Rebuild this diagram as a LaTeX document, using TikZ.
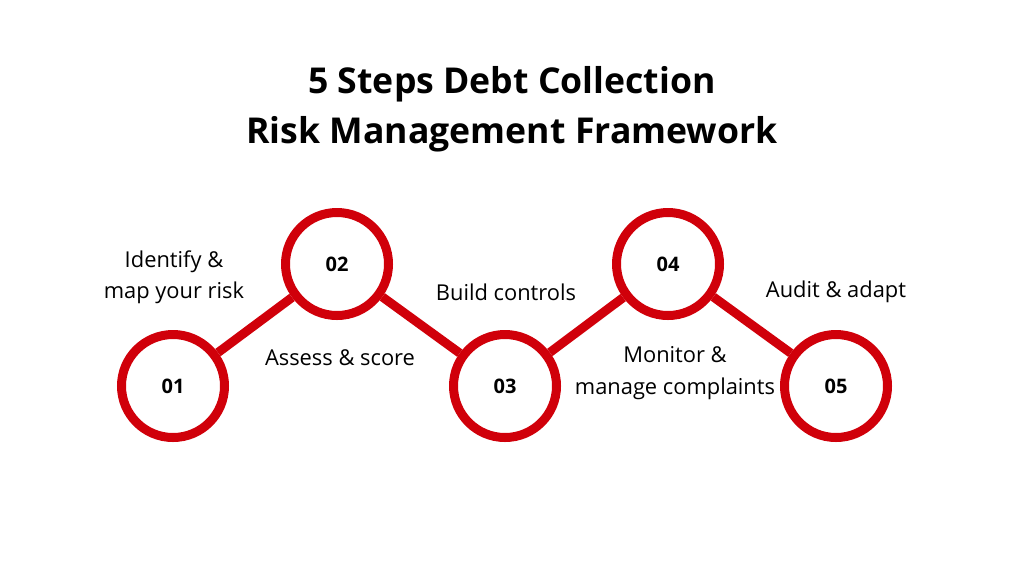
\documentclass[tikz,border=0pt]{standalone}
\usepackage{fontspec}
\setmainfont{Open Sans}
\usepackage{tikz}
\definecolor{stepred}{HTML}{D0000A}

\begin{document}
\begin{tikzpicture}[x=0.75pt,y=-0.75pt]
\tikzset{every node/.style={inner sep=0pt},
  stepcircle/.style={circle,draw=stepred,line width=6.75pt,minimum size=103*0.75pt,font=\fontsize{15}{18}\selectfont\bfseries},
  steplabel/.style={align=center,font=\fontsize{16.4}{23.5}\selectfont},
  link/.style={stepred,line width=6.75pt}}
\useasboundingbox (0,0) rectangle (1012,569);
% title
\node[align=center,font=\fontsize{26.7}{37.5}\selectfont\bfseries] (title) at (512,109) {5 Steps Debt Collection\\Risk Management Framework};
% steps
\node[stepcircle] (s1) at (173,386) {01};
\node[stepcircle] (s2) at (337,264) {02};
\node[stepcircle] (s3) at (505,386) {03};
\node[stepcircle] (s4) at (668,264) {04};
\node[stepcircle] (s5) at (836,386) {05};
\draw[link] (s1) -- (s2);
\draw[link] (s2) -- (s3);
\draw[link] (s3) -- (s4);
\draw[link] (s4) -- (s5);
% labels
\node[steplabel] (l1) at (174,277) {Identify \&\\map your risk};
\node[steplabel] (l2) at (340,358) {Assess \& score};
\node[steplabel] (l3) at (506,292) {Build controls};
\node[steplabel] (l4) at (675,373) {Monitor \&\\manage complaints};
\node[steplabel] (l5) at (836,292) {Audit \& adapt};
\end{tikzpicture}
\end{document}
